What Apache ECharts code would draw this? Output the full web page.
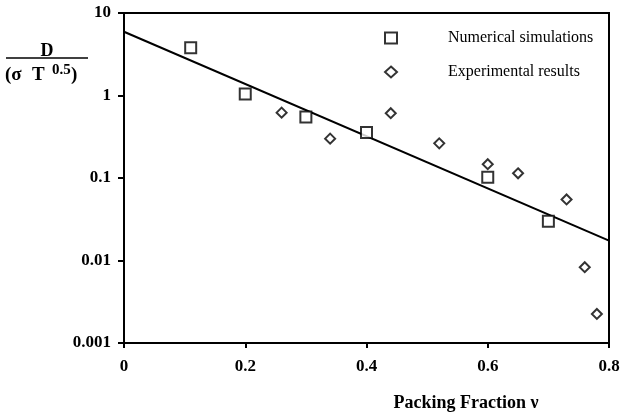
<!DOCTYPE html>
<html>
<head>
<meta charset="utf-8">
<script src="https://cdn.jsdelivr.net/npm/echarts@6/dist/echarts.min.js"></script>
<style>html,body{margin:0;padding:0;background:#fff;}#c{width:623px;height:417px;}</style>
</head>
<body>
<div id="c"></div>
<script>
// Data
const simX = [0.11, 0.2, 0.3, 0.4, 0.6, 0.7];
const simY = [3.8, 1.04, 0.55, 0.355, 0.102, 0.030];
const expX = [0.26, 0.34, 0.44, 0.52, 0.6, 0.65, 0.73, 0.76, 0.78];
const expY = [0.62, 0.30, 0.61, 0.263, 0.147, 0.114, 0.055, 0.0083, 0.00225];
const fitX = [0, 0.8];
const fitY = [5.93, 0.0174];
const yTickLabels = ['0.001', '0.01', '0.1', '1', '10'];
const seriesNames = ['Numerical simulations', 'Experimental results'];
const xTitle = 'Packing Fraction ν';

const serif = '"Liberation Serif", "Times New Roman", serif';
const chart = echarts.init(document.getElementById('c'), null, {renderer: 'canvas'});
const zip = (xs, ys) => xs.map((x, i) => [x, ys[i]]);
const hollow = {color: '#fff', borderColor: '#000', borderWidth: 2};

chart.setOption({
  animation: false,
  backgroundColor: '#fff',
  grid: {left: 124, right: 14, top: 13, bottom: 74, show: true, borderColor: '#000', borderWidth: 2, backgroundColor: 'transparent'},
  legend: {
    orient: 'vertical', left: 379, top: 25, itemGap: 18, itemWidth: 12, itemHeight: 11,
    data: [
      {name: seriesNames[0], icon: 'rect', itemStyle: hollow},
      {name: seriesNames[1], icon: 'diamond', itemStyle: hollow}
    ],
    textStyle: {fontFamily: serif, fontSize: 16, color: '#000', padding: [0, 0, 0, 46]}
  },
  xAxis: {
    type: 'value', min: 0, max: 0.8, interval: 0.2,
    axisLine: {lineStyle: {color: '#000', width: 2}},
    axisTick: {show: true, length: 5, lineStyle: {color: '#000', width: 2}},
    axisLabel: {color: '#000', fontFamily: serif, fontWeight: 'bold', fontSize: 17, margin: 15},
    splitLine: {show: false}
  },
  yAxis: {
    type: 'log', logBase: 10, min: 0.001, max: 10,
    axisLine: {show: true, lineStyle: {color: '#000', width: 2}},
    axisTick: {show: true, length: 6, lineStyle: {color: '#000', width: 2}},
    axisLabel: {color: '#000', fontFamily: serif, fontWeight: 'bold', fontSize: 17, margin: 13,
      formatter: v => yTickLabels[Math.round(Math.log10(v)) + 3]},
    splitLine: {show: false}
  },
  series: [
    {name: seriesNames[0], type: 'scatter', symbol: 'rect', symbolSize: 11,
     itemStyle: hollow, data: zip(simX, simY), z: 3},
    {name: seriesNames[1], type: 'scatter', symbol: 'diamond', symbolSize: [10, 10],
     itemStyle: hollow, data: zip(expX, expY), z: 3},
    {name: 'fit', type: 'line', symbol: 'none', data: zip(fitX, fitY),
     lineStyle: {color: '#000', width: 2}, z: 2}
  ],
  graphic: [
    {type: 'text', x: 47, y: 51, style: {text: 'D', font: 'bold 18px ' + serif, fill: '#000', align: 'center', verticalAlign: 'middle'}},
    {type: 'line', shape: {x1: 6, y1: 58, x2: 88, y2: 58}, style: {stroke: '#000', lineWidth: 1.5}},
    {type: 'text', x: 5, y: 75, style: {text: '(σ', font: 'bold 19px ' + serif, fill: '#000', verticalAlign: 'middle'}},
    {type: 'text', x: 32, y: 75, style: {text: 'T', font: 'bold 19px ' + serif, fill: '#000', verticalAlign: 'middle'}},
    {type: 'text', x: 52, y: 70, style: {text: '0.5', font: 'bold 15px ' + serif, fill: '#000', verticalAlign: 'middle'}},
    {type: 'text', x: 71, y: 75, style: {text: ')', font: 'bold 19px ' + serif, fill: '#000', verticalAlign: 'middle'}},
    {type: 'text', x: 466, y: 403, style: {text: xTitle, font: 'bold 18px ' + serif, fill: '#000', align: 'center', verticalAlign: 'middle'}}
  ]
});
</script>
</body>
</html>
